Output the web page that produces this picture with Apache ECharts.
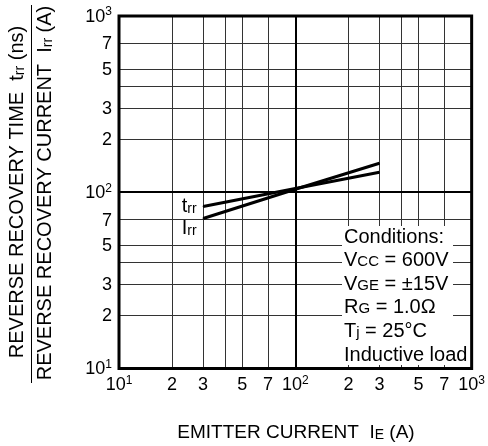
<!DOCTYPE html>
<html><head><meta charset="utf-8">
<script src="https://cdn.jsdelivr.net/npm/echarts@6/dist/echarts.min.js"></script>
<style>html,body{margin:0;padding:0;background:#fff}#c{width:488px;height:446px}</style>
</head><body><div id="c"></div>
<script>
// Data
const emitterCurrent = [30, 100, 300];
const trrValues = [83, 105, 130];
const irrValues = [71, 104, 146];
const gridValues = [10, 20, 30, 40, 50, 70, 100, 200, 300, 400, 500, 700, 1000];
const labelValues = [10, 20, 30, 50, 70, 100, 200, 300, 500, 700, 1000];
const majorValues = [100];
const conditionLines = [
  'Conditions:',
  'V{s|CC} = 600V',
  'V{s|GE} = \u00b115V',
  'R{s|G} = 1.0\u03a9',
  'T{s|j} = 25\u00b0C',
  'Inductive load'
];

const FONT = '"Liberation Sans", Arial, Helvetica, sans-serif';

function tickFmt(v) {
  const e = Math.log10(v);
  if (Math.abs(e - Math.round(e)) < 1e-9) return '{b|10}{s|' + Math.round(e) + '}';
  const d = v / Math.pow(10, Math.floor(e));
  return '{b|' + Math.round(d) + '}';
}
const tickRich = {
  b: {fontSize: 18, fontFamily: FONT, color: '#000', verticalAlign: 'bottom', lineHeight: 20},
  s: {fontSize: 12, fontFamily: FONT, color: '#000', verticalAlign: 'top', lineHeight: 20, padding: [0, 0, 8, 0]}
};

const chart = echarts.init(document.getElementById('c'), null, {renderer: 'canvas'});

const gL = 119, gT = 16, gR = 15, gB = 77.5;

const graphics = [];
// white cover behind conditions
graphics.push({type: 'rect', z: 100, shape: {x: 342, y: 226, width: 111, height: 139}, style: {fill: '#fff'}});
conditionLines.forEach((t, i) => {
  graphics.push({
    type: 'text', z: 101, x: 344, y: 237 + i * 23.6,
    style: {
      text: t, fontSize: 20, fontFamily: FONT, fill: '#000',
      verticalAlign: 'middle', align: 'left',
      backgroundColor: i === conditionLines.length - 1 ? '#fff' : null,
      rich: {s: {fontSize: 15, fontFamily: FONT, fill: '#000', verticalAlign: 'bottom', padding: [0, 0, 1, 0]}}
    }
  });
});
// y axis title (fraction)
graphics.push({
  type: 'text', z: 101, x: 17, y: 192, rotation: Math.PI / 2,
  style: {
    text: 'REVERSE RECOVERY TIME  t{s|rr} (ns)', fontSize: 20, fontFamily: FONT, fill: '#000',
    align: 'center', verticalAlign: 'middle',
    rich: {s: {fontSize: 14, fontFamily: FONT, fill: '#000', verticalAlign: 'bottom'}}
  }
});
graphics.push({
  type: 'text', z: 101, x: 45, y: 193, rotation: Math.PI / 2,
  style: {
    text: 'REVERSE RECOVERY CURRENT  I{s|rr} (A)', fontSize: 20, fontFamily: FONT, fill: '#000',
    align: 'center', verticalAlign: 'middle',
    rich: {s: {fontSize: 14, fontFamily: FONT, fill: '#000', verticalAlign: 'bottom'}}
  }
});
graphics.push({type: 'line', z: 101, shape: {x1: 31.5, y1: 5, x2: 31.5, y2: 383}, style: {stroke: '#000', lineWidth: 1}});
// x axis title
graphics.push({
  type: 'text', z: 101, x: 296, y: 433,
  style: {
    text: 'EMITTER CURRENT  I{s|E} (A)', fontSize: 19, fontFamily: FONT, fill: '#000',
    align: 'center', verticalAlign: 'middle',
    rich: {s: {fontSize: 14, fontFamily: FONT, fill: '#000', verticalAlign: 'bottom'}}
  }
});

const seriesLabel = (name, offY) => ({
  show: true, position: 'left', distance: 6, offset: [0, offY],
  formatter: name, fontSize: 20, fontFamily: FONT, color: '#000',
  rich: {s: {fontSize: 14, fontFamily: FONT, color: '#000', verticalAlign: 'bottom'}}
});

function mkData(vals, lbl) {
  return emitterCurrent.map((x, i) => {
    const d = {value: [x, vals[i]]};
    if (i === 0) d.label = lbl; else d.label = {show: false};
    return d;
  });
}

chart.setOption({
  animation: false,
  backgroundColor: '#fff',
  textStyle: {fontFamily: FONT},
  grid: {left: gL, top: gT, right: gR, bottom: gB, show: true, borderColor: '#000', borderWidth: 3, backgroundColor: 'transparent', z: 3},
  xAxis: {
    type: 'log', logBase: 10, min: 10, max: 1000,
    axisLine: {show: false}, axisTick: {show: false, customValues: gridValues},
    splitLine: {show: true, lineStyle: {color: '#333', width: 1}},
    axisLabel: {customValues: labelValues, formatter: tickFmt, rich: tickRich, margin: 6, color: '#000'}
  },
  yAxis: {
    type: 'log', logBase: 10, min: 10, max: 1000,
    axisLine: {show: false}, axisTick: {show: false, customValues: gridValues},
    splitLine: {show: true, lineStyle: {color: '#333', width: 1}},
    axisLabel: {customValues: labelValues, formatter: tickFmt, rich: tickRich, margin: 7, color: '#000'}
  },
  graphic: graphics,
  series: [
    {
      name: 'trr', type: 'line', symbol: 'circle', symbolSize: 1, showSymbol: true, showAllSymbol: true, z: 5,
      itemStyle: {color: '#000'},
      lineStyle: {color: '#000', width: 3},
      data: mkData(trrValues, seriesLabel('t{s|rr}', 0)),
      markLine: {
        silent: true, symbol: 'none', label: {show: false},
        lineStyle: {color: '#000', width: 2, type: 'solid'},
        data: majorValues.map(v => ({xAxis: v})).concat(majorValues.map(v => ({yAxis: v})))
      }
    },
    {
      name: 'Irr', type: 'line', symbol: 'circle', symbolSize: 1, showSymbol: true, showAllSymbol: true, z: 5,
      itemStyle: {color: '#000'},
      lineStyle: {color: '#000', width: 3},
      data: mkData(irrValues, seriesLabel('I{s|rr}', 10))
    }
  ]
});
</script>
</body></html>
